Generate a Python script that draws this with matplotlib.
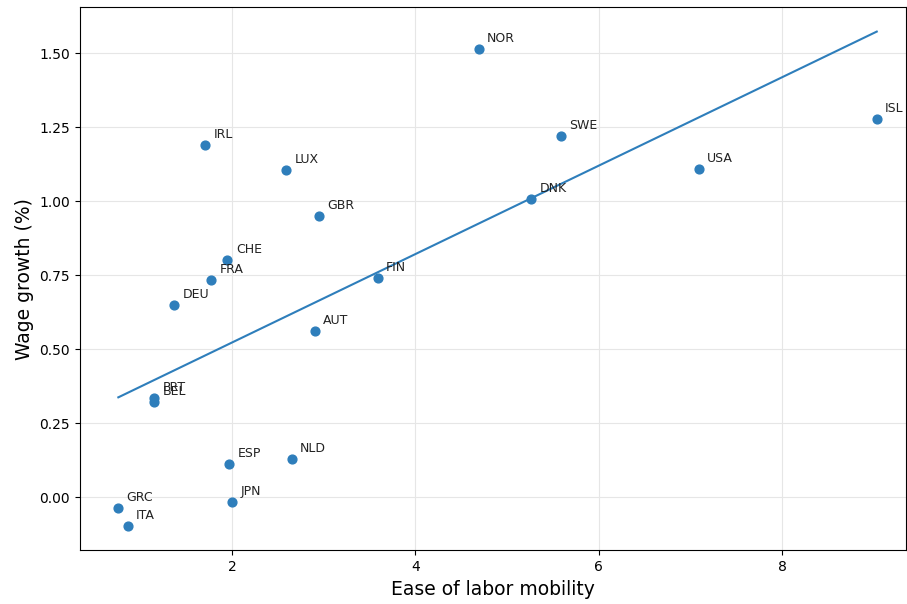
import matplotlib
matplotlib.use("Agg")
import matplotlib.pyplot as plt
import numpy as np

countries = ["NOR", "SWE", "ISL", "USA", "DNK", "IRL", "LUX", "GBR", "CHE", "FRA",
             "FIN", "DEU", "AUT", "PRT", "BEL", "ESP", "NLD", "JPN", "GRC", "ITA"]
mobility = [4.69, 5.59, 9.03, 7.09, 5.26, 1.71, 2.59, 2.95, 1.95, 1.77,
            3.59, 1.37, 2.90, 1.15, 1.15, 1.97, 2.65, 2.00, 0.76, 0.86]
wage_growth = [1.514, 1.220, 1.277, 1.108, 1.007, 1.189, 1.105, 0.949, 0.801, 0.733,
               0.740, 0.649, 0.561, 0.334, 0.321, 0.111, 0.128, -0.017, -0.037, -0.098]

fig = plt.figure(figsize=(9.07, 6.04), dpi=100)
ax = fig.add_axes([0.088, 0.089, 0.911, 0.899])

color = "#2e7ebb"
ax.scatter(mobility, wage_growth, color=color, s=40, zorder=3)
for c, x, y in zip(countries, mobility, wage_growth):
    ax.annotate(c, (x, y), xytext=(6, 5), textcoords="offset points", fontsize=9, color="#222222")

x = np.array(mobility)
yv = np.array(wage_growth)
slope, intercept = np.polyfit(x, yv, 1)
xs = np.array([x.min(), x.max()])
ax.plot(xs, slope * xs + intercept, color=color, lw=1.5)

ax.set_xlim(0.34, 9.35)
ax.set_ylim(-0.179, 1.655)
ax.set_xticks([2, 4, 6, 8])
ax.set_yticks([0.0, 0.25, 0.5, 0.75, 1.0, 1.25, 1.5])
ax.set_yticklabels(["0.00", "0.25", "0.50", "0.75", "1.00", "1.25", "1.50"])
ax.grid(True, color="#e6e6e6", lw=0.8)
ax.set_axisbelow(True)
ax.tick_params(labelsize=10)
ax.set_xlabel("Ease of labor mobility", fontsize=13.5)
ax.set_ylabel("Wage growth (%)", fontsize=13.5)

fig.savefig("out.png", dpi=100)
